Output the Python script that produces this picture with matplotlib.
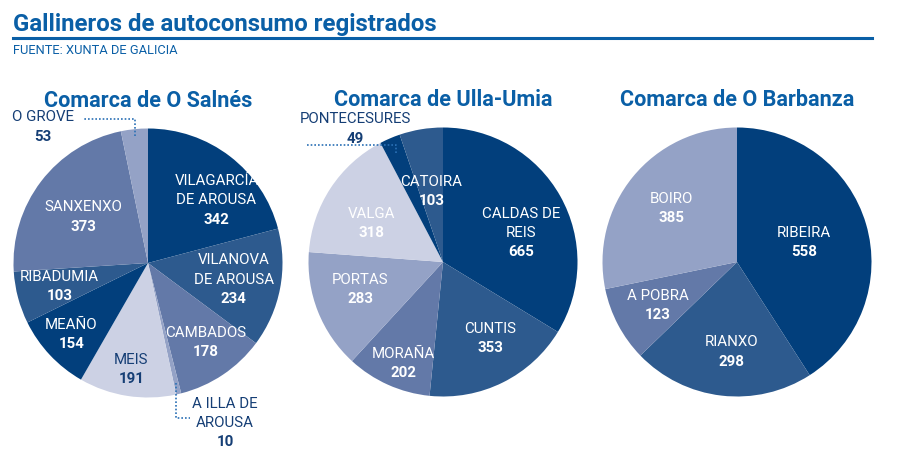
import matplotlib.pyplot as plt
import numpy as np

plt.rcParams['font.family'] = ['Roboto', 'DejaVu Sans']

# Data
salnes_names = ['VILAGARCÍA\nDE AROUSA', 'VILANOVA\nDE AROUSA', 'CAMBADOS', 'A ILLA DE\nAROUSA',
                'MEIS', 'MEAÑO', 'RIBADUMIA', 'SANXENXO', 'O GROVE']
salnes_values = [342, 234, 178, 10, 191, 154, 103, 373, 53]

ulla_names = ['CALDAS DE\nREIS', 'CUNTIS', 'MORAÑA', 'PORTAS', 'VALGA', 'PONTECESURES', 'CATOIRA']
ulla_values = [665, 353, 202, 283, 318, 49, 103]

barbanza_names = ['RIBEIRA', 'RIANXO', 'A POBRA', 'BOIRO']
barbanza_values = [558, 298, 123, 385]

comarcas = ['Comarca de O Salnés', 'Comarca de Ulla-Umia', 'Comarca de O Barbanza']

# Styles
palette = ['#023f7c', '#2d5a8e', '#6379a8', '#94a2c6', '#ccd1e4']
blue = '#0a5fa6'
navy = '#153e75'
dots = '#2a70b5'

W, H = 920, 455
R = 134.5
centers = [(148, 263), (443, 262), (737, 262)]

# inside label placement: (fraction of radius, angle tweak in degrees); None = outside label
label_pos = [
    [(0.69, 10), (0.65, 0), (0.73, -2), None, (0.80, 0), (0.78, 0), (0.68, 0), (0.59, -2), None],
    [(0.62, 9), (0.67, -5), (0.81, -3), (0.65, 3), (0.60, -5), None, (0.53, 0)],
    [(0.52, 0), (0.67, -3), (0.67, -1), (0.63, 0)],
]
dark_text = {(0, 4)}  # labels drawn in navy (light wedge)
line_h = 19.2 / R
fs_lab = 10.8

fig = plt.figure(figsize=(W / 100, H / 100), dpi=100)

fig.text(13 / W, 1 - 31 / H, 'Gallineros de autoconsumo registrados', fontsize=17.3,
         fontweight='bold', color=blue, va='baseline', ha='left')
fig.add_artist(plt.Line2D([13 / W, 872 / W], [1 - 38 / H, 1 - 38 / H], color=blue, lw=2.2))
fig.text(13 / W, 1 - 54 / H, 'FUENTE: XUNTA DE GALICIA', fontsize=9.3, color=blue,
         va='baseline', ha='left')


def put_label(ax, x, y, name, value, color):
    lines = name.split('\n')
    n = len(lines) + 1
    top = y + (n - 1) / 2 * line_h
    for i, ln in enumerate(lines):
        ax.text(x, top - i * line_h, ln, ha='center', va='center', fontsize=fs_lab,
                color=color, clip_on=False)
    ax.text(x, top - len(lines) * line_h, str(value), ha='center', va='center',
            fontsize=fs_lab, fontweight='bold', color=color, clip_on=False)


def mid_angles(values):
    v = np.array(values, dtype=float)
    cum = np.cumsum(v) - v / 2
    return cum / v.sum() * 2 * np.pi  # clockwise from top


all_names = [salnes_names, ulla_names, barbanza_names]
all_values = [salnes_values, ulla_values, barbanza_values]

axes = []
for k, (cx, cy) in enumerate(centers):
    ax = fig.add_axes([(cx - R) / W, 1 - (cy + R) / H, 2 * R / W, 2 * R / H])
    vals = all_values[k]
    cols = [palette[i % len(palette)] for i in range(len(vals))]
    ax.pie(vals, colors=cols, startangle=90, counterclock=False, radius=1,
           wedgeprops=dict(linewidth=0))
    ax.set_xlim(-1, 1)
    ax.set_ylim(-1, 1)
    ax.set_aspect('equal')
    ax.axis('off')
    ax.text(0, 156 / R, comarcas[k], ha='center', va='baseline', fontsize=15.6,
            fontweight='bold', color=blue, clip_on=False)
    ang = mid_angles(vals)
    for i, (nm, v) in enumerate(zip(all_names[k], vals)):
        pos = label_pos[k][i]
        if pos is None:
            continue
        rf, dt = pos
        a = ang[i] + np.radians(dt)
        color = navy if (k, i) in dark_text else 'white'
        put_label(ax, rf * np.sin(a), rf * np.cos(a), nm, v, color)
    axes.append((ax, ang))

# outside labels with dotted leaders
leader = dict(color=dots, lw=1.2, ls=(0, (1, 1.2)), clip_on=False)

ax, ang = axes[0]
a = ang[8]
px, py = 0.95 * np.sin(a), 0.95 * np.cos(a)
ax.plot([px, px, -65 / R], [py, 1.07, 1.07], **leader)
put_label(ax, -105 / R, (263 - 127) / R, salnes_names[8], salnes_values[8], navy)

a = ang[3]
px, py = 0.92 * np.sin(a), 0.92 * np.cos(a)
ax.plot([px, px, 42 / R], [py, -155 / R, -155 / R], **leader)
put_label(ax, 77 / R, -(423 - 263) / R, salnes_names[3], salnes_values[3], navy)

ax, ang = axes[1]
a = ang[5]
px, py = 0.88 * np.sin(a), 0.88 * np.cos(a)
ax.plot([px, px, -136 / R], [py, 117 / R, 117 / R], **leader)
put_label(ax, -88 / R, (262 - 129) / R, ulla_names[5], ulla_values[5], navy)

fig.savefig('out.png', dpi=100)
